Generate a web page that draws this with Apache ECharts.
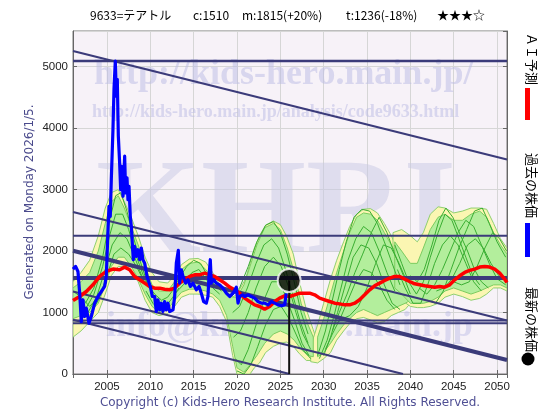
<!DOCTYPE html>
<html><head><meta charset="utf-8">
<script src="https://cdn.jsdelivr.net/npm/echarts@6/dist/echarts.min.js"></script>
<style>html,body{margin:0;padding:0;background:#fff}#c{width:560px;height:420px}</style>
</head><body><div id="c"></div>
<script>
// ---- axis settings ----
const xMin = 2001.08, xMax = 2051.15;
const yMin = 0, yMax = 5580;
const yTickLabels = ['0','1000','2000','3000','4000','5000'];
const xTickLabels = ['2005','2010','2015','2020','2025','2030','2035','2040','2045','2050'];

// ---- past price (blue) ----
const priceYears = [2001.08,2001.38,2001.65,2001.85,2002.04,2002.23,2002.42,2002.62,2002.92,2003.19,2003.58,2003.96,2004.35,2004.73,2004.92,2005.12,2005.23,2005.38,2005.50,2005.69,2005.81,2005.96,2006.08,2006.19,2006.31,2006.46,2006.58,2006.69,2006.85,2007.04,2007.15,2007.31,2007.42,2007.54,2007.69,2007.81,2007.92,2008.04,2008.19,2008.38,2008.58,2008.77,2008.96,2009.15,2009.35,2009.62,2009.85,2010.00,2010.23,2010.50,2010.69,2010.88,2011.08,2011.27,2011.46,2011.65,2011.85,2012.04,2012.23,2012.62,2012.81,2013.00,2013.23,2013.38,2013.58,2013.77,2014.08,2014.35,2014.62,2014.92,2015.31,2015.62,2015.88,2016.15,2016.46,2016.65,2016.77,2016.92,2017.04,2017.31,2017.62,2018.00,2018.38,2018.77,2019.15,2019.54,2019.92,2020.12,2020.31,2020.62,2020.88,2021.27,2021.65,2022.04,2022.42,2022.81,2023.19,2023.58,2023.96,2024.35,2024.73,2025.12,2025.50,2025.69];
const priceVals = [1707,1750,1668,1315,853,1207,935,1070,826,935,1152,1261,1342,1424,1587,2348,2728,2565,3163,3978,4630,5092,4522,4793,3870,3435,3000,3380,2891,3543,2946,3190,2837,3054,2565,2402,2130,1859,2076,1913,2022,1859,2049,1859,1804,1587,1587,1424,1261,1261,1016,1207,1043,1152,1016,1179,1043,1152,1016,1043,1261,1804,2011,1478,1696,1587,1478,1533,1424,1478,1370,1424,1315,1179,1152,1261,1587,1859,1478,1533,1478,1451,1397,1315,1261,1315,1413,1152,1261,1288,1261,1288,1261,1234,1179,1152,1152,1125,1179,1152,1125,1109,1125,1315];

// ---- AI forecast (red) ----
const aiYears = [2001.08,2001.85,2002.62,2003.38,2004.15,2004.92,2005.69,2006.46,2007.04,2007.62,2008.19,2008.77,2009.35,2009.92,2010.50,2011.08,2011.65,2012.23,2012.81,2013.38,2013.96,2014.54,2015.12,2015.69,2016.27,2016.85,2017.42,2018.00,2018.58,2019.15,2019.73,2020.31,2020.88,2021.46,2022.04,2022.62,2023.19,2023.77,2024.35,2024.92,2025.50,2026.08,2026.65,2027.23,2027.81,2028.38,2028.96,2029.54,2030.12,2030.69,2031.27,2031.85,2032.42,2033.00,2033.58,2034.15,2034.73,2035.31,2035.88,2036.46,2037.04,2037.62,2038.19,2038.77,2039.35,2039.92,2040.50,2041.08,2041.65,2042.23,2042.81,2043.38,2043.96,2044.54,2045.12,2045.69,2046.27,2046.85,2047.42,2048.00,2048.58,2049.15,2049.73,2050.31,2050.88,2051.15];
const aiVals = [1196,1261,1342,1451,1587,1668,1707,1696,1739,1696,1587,1533,1478,1424,1397,1397,1380,1370,1397,1478,1533,1587,1614,1614,1641,1614,1587,1533,1478,1413,1370,1315,1234,1179,1125,1098,1054,1098,1179,1234,1272,1261,1288,1315,1315,1315,1288,1234,1207,1179,1152,1141,1125,1125,1152,1207,1288,1370,1435,1478,1522,1560,1587,1587,1543,1505,1467,1451,1435,1424,1413,1424,1413,1451,1533,1598,1652,1685,1707,1739,1750,1739,1707,1641,1543,1489];

// ---- latest price ----
const latestYear = 2026.02, latestPrice = 1521;

// ---- outer (yellow) envelopes ----
const yelA_years = [2001.08,2002.0,2003.0,2004.0,2004.8,2005.5,2006.3,2007.0,2007.8,2008.6,2009.4,2010.2,2011.0,2012.0,2012.8,2013.6,2014.5,2015.5,2016.4,2017.2,2018.0,2018.8,2019.5,2020.0,2021.0,2021.5,2022.0,2022.6,2023.3,2024.2,2025.0,2025.7,2026.5,2027.2,2028.0,2028.8,2029.3];
const yelA_lo = [600,700,850,1000,1300,1600,1750,1750,1650,1500,1200,1000,950,980,1100,1250,1300,1300,1280,1250,1100,850,300,0,0,0,100,180,350,450,500,520,450,330,220,220,280];
const yelA_hi = [1500,1650,1850,2250,2700,2950,3000,2800,2550,2250,1900,1650,1500,1480,1600,1780,1870,1880,1820,1650,1450,1350,1250,1300,1550,1800,2050,2250,2420,2490,2430,2250,1950,1500,1050,720,500];
const yelB_years = [2028.5,2029.3,2030.0,2030.8,2031.5,2032.3,2033.0,2033.8,2034.6,2035.4,2036.2,2037.0,2037.8,2038.6,2039.4,2040.0];
const yelB_lo = [200,180,250,350,550,700,820,900,920,880,830,850,950,1000,1050,1150];
const yelB_hi = [450,800,1150,1550,1850,2150,2400,2600,2680,2690,2620,2450,2250,2000,1800,1650];
const yelC_years = [2038.0,2039.0,2040.0,2040.8,2041.5,2042.3,2043.2,2044.0,2045.0,2046.0,2047.0,2048.0,2048.8,2049.6,2050.4,2051.15];
const yelC_lo = [1350,1200,1100,1080,1080,1100,1150,1250,1300,1260,1200,1230,1300,1400,1400,1350];
const yelC_hi = [2300,2350,2250,2150,2300,2600,2720,2700,2620,2650,2700,2700,2680,2450,2200,2050];

// ---- inner (green) envelopes ----
const grnA_years = [2001.08,2002.0,2003.0,2004.0,2004.8,2005.5,2006.3,2007.0,2007.8,2008.6,2009.4,2010.2,2011.0,2012.0,2012.8,2013.6,2014.5,2015.5,2016.4,2017.2,2018.0,2018.8,2019.5,2020.0,2020.8,2021.5,2022.3,2023.2,2024.2,2025.0,2025.8,2026.6,2027.4,2028.2,2028.8];
const grnA_lo = [900,950,1000,1150,1450,1750,1900,1900,1750,1550,1300,1100,1000,1050,1200,1330,1380,1380,1350,1300,1200,950,450,100,30,150,300,500,650,700,650,550,400,300,280];
const grnA_hi = [1400,1500,1650,2000,2450,2800,2900,2700,2400,2100,1750,1450,1350,1350,1500,1700,1800,1820,1700,1550,1400,1300,1250,1250,1450,1750,2100,2380,2450,2350,2050,1650,1150,800,600];
const grnB_years = [2029.3,2030.0,2030.8,2031.5,2032.3,2033.0,2033.8,2034.6,2035.4,2036.2,2037.0,2037.8,2038.6,2039.4,2040.0];
const grnB_lo = [280,350,500,650,800,900,1000,1050,1000,950,1000,1050,1100,1150,1200];
const grnB_hi = [600,900,1300,1650,2000,2300,2550,2620,2600,2500,2300,2100,1900,1700,1600];
const grnC_years = [2038.2,2039.0,2040.0,2040.8,2041.5,2042.3,2043.2,2044.0,2045.0,2046.0,2047.0,2048.0,2048.8,2049.6,2050.4,2051.15];
const grnC_lo = [1400,1300,1150,1150,1150,1180,1250,1350,1400,1350,1300,1350,1400,1450,1450,1400];
const grnC_hi = [2150,2000,1800,1800,2050,2350,2550,2600,2500,2500,2600,2650,2550,2300,2100,1950];

// ---- simulated paths (green lines) ----
const simPaths = [
  [[2002.5,1150],[2003.5,1400],[2004.5,1900],[2005.3,2500],[2006.0,2900],[2006.6,2950],[2007.3,2650],[2008.0,2250],[2008.8,1850],[2009.6,1500],[2010.5,1250]],
  [[2002.5,1050],[2003.5,1300],[2004.5,1750],[2005.3,2250],[2006.0,2600],[2006.8,2600],[2007.5,2350],[2008.3,1950],[2009.2,1600],[2010.2,1350]],
  [[2002.8,1000],[2003.8,1250],[2004.8,1700],[2005.6,2100],[2006.5,2300],[2007.3,2200],[2008.2,1900],[2009.0,1600],[2010.0,1400]],
  [[2003.0,950],[2004.0,1200],[2005.0,1600],[2005.8,1950],[2006.6,2050],[2007.5,1950],[2008.4,1750],[2009.3,1500]],
  [[2001.08,1350],[2002.0,1250],[2003.0,1100],[2004.0,1250],[2005.0,1500]],
  [[2009.5,1350],[2010.3,1150],[2011.0,1050],[2011.8,1100],[2012.6,1250],[2013.3,1400]],
  [[2009.5,1500],[2010.5,1300],[2011.3,1200],[2012.0,1250],[2012.8,1400]],
  [[2012.5,1350],[2013.3,1550],[2014.2,1750],[2015.0,1850],[2015.8,1800],[2016.6,1600],[2017.4,1450],[2018.2,1350]],
  [[2012.8,1300],[2013.8,1450],[2014.8,1650],[2015.6,1700],[2016.4,1550],[2017.2,1400],[2018.0,1300]],
  [[2019.3,1250],[2020.3,1400],[2021.3,1750],[2022.3,2150],[2023.3,2420],[2024.2,2480],[2025.0,2300],[2025.8,1950],[2026.6,1500],[2027.4,1000],[2028.2,650]],
  [[2019.5,1000],[2020.3,1100],[2021.2,1400],[2022.2,1800],[2023.1,2100],[2024.0,2200],[2024.8,2050],[2025.6,1700],[2026.5,1250],[2027.3,850],[2028.2,500]],
  [[2019.6,600],[2020.4,700],[2021.3,1000],[2022.2,1400],[2023.2,1750],[2024.2,1900],[2025.1,1750],[2026.0,1400],[2026.8,1000],[2027.6,650],[2028.5,400]],
  [[2019.8,250],[2020.5,150],[2021.3,400],[2022.2,800],[2023.1,1200],[2024.0,1500],[2024.9,1500],[2025.8,1200],[2026.7,850],[2027.5,500],[2028.3,300]],
  [[2020.0,50],[2020.8,0],[2021.6,150],[2022.4,450],[2023.3,800],[2024.2,1050],[2025.1,1100],[2026.0,900],[2026.8,650],[2027.6,400],[2028.5,250]],
  [[2029.3,300],[2030.2,700],[2031.0,1200],[2031.8,1700],[2032.6,2150],[2033.5,2550],[2034.4,2680],[2035.3,2650],[2036.2,2450],[2037.0,2150],[2037.9,1800],[2038.8,1450]],
  [[2029.5,250],[2030.4,550],[2031.2,950],[2032.0,1400],[2032.8,1850],[2033.7,2200],[2034.6,2400],[2035.5,2300],[2036.4,2000],[2037.3,1650],[2038.2,1350]],
  [[2030.0,300],[2030.8,600],[2031.6,1000],[2032.5,1450],[2033.4,1900],[2034.3,2100],[2035.2,2050],[2036.1,1800],[2037.0,1450],[2037.9,1150],[2038.8,1050]],
  [[2030.2,400],[2031.0,650],[2031.9,900],[2032.8,1200],[2033.7,1500],[2034.6,1700],[2035.5,1650],[2036.4,1450],[2037.3,1200],[2038.2,1050]],
  [[2031.0,700],[2031.8,1000],[2032.7,1300],[2033.6,1650],[2034.5,1950],[2035.5,2300],[2036.4,2550],[2037.3,2300],[2038.2,1950],[2039.2,1600],[2040.0,1300]],
  [[2031.2,800],[2032.2,900],[2033.0,950],[2034.0,1100],[2035.0,1400],[2036.0,1800],[2036.9,2100],[2037.8,2050],[2038.7,1800],[2039.6,1500]],
  [[2038.2,2100],[2039.0,1800],[2039.8,1500],[2040.7,1300],[2041.5,1500],[2042.3,1900],[2043.2,2300],[2044.0,2600],[2044.8,2500],[2045.6,2200],[2046.4,1900],[2047.2,1600],[2048.0,1450]],
  [[2038.5,1700],[2039.4,1400],[2040.3,1150],[2041.2,1150],[2042.0,1450],[2042.8,1800],[2043.7,2100],[2044.6,2250],[2045.5,2100],[2046.4,1800],[2047.3,1500],[2048.2,1350]],
  [[2040.0,1600],[2040.8,1500],[2041.6,1700],[2042.5,2100],[2043.3,2500],[2044.1,2700],[2044.9,2550],[2045.8,2250],[2046.6,2000],[2047.4,1700],[2048.2,1500],[2049.0,1400]],
  [[2041.0,1400],[2041.9,1300],[2042.8,1450],[2043.7,1700],[2044.6,2000],[2045.5,2300],[2046.4,2500],[2047.3,2400],[2048.2,2100],[2049.1,1800],[2050.0,1550],[2051.0,1450]],
  [[2042.0,1200],[2042.9,1150],[2043.8,1350],[2044.7,1700],[2045.6,2050],[2046.5,2350],[2047.4,2650],[2048.3,2700],[2049.1,2450],[2050.0,2150],[2051.0,1900]],
  [[2043.0,1350],[2043.9,1400],[2044.8,1550],[2045.7,1800],[2046.6,2100],[2047.5,2200],[2048.4,2050],[2049.3,1800],[2050.2,1600],[2051.1,1500]],
  [[2045.0,1500],[2045.9,1450],[2046.8,1500],[2047.7,1750],[2048.6,2050],[2049.5,2300],[2050.3,2200],[2051.1,2000]]
];

// ---- channel lines (navy) ----
const levelVals = [5090, 2250, 1560, 870, 825];
const levelWidths = [2.5, 2, 4, 2, 2];
const trendLines = [
  [[2001.08,5255],[2051.15,3489]],
  [[2001.08,2636],[2051.15,870]],
  [[2001.08,2005],[2051.15,228]],
  [[2001.08,1342],[2039.15,0]],
  [[2001.08,883],[2026.08,0]]
];
const trendWidths = [2, 2, 4, 2, 2];

// ---- texts ----
const titleParts = [['9633=テアトル',90],['c:1510',193],['m:1815(+20%)',242],['t:1236(-18%)',346],['★★★☆',437]];
const legendTexts = ['ＡＩ予測','過去の株価','最新の株価'];

const NAVY = '#3b3b7a';
const series = [];

function band(years, lo, hi, fill, stroke, z) {
  const data = years.map((y, i) => [y, lo[i], hi[i]]);
  return {
    type: 'custom', data, z, silent: true, clip: true,
    encode: { x: 0, y: [1, 2] },
    renderItem(params, api) {
      if (params.dataIndex !== 0) return null;
      const top = data.map(d => api.coord([d[0], d[2]]));
      const bot = data.map(d => api.coord([d[0], d[1]])).reverse();
      return { type: 'polygon', shape: { points: top.concat(bot) },
        style: { fill, stroke, lineWidth: 1 } };
    }
  };
}
const YEL = '#fbf6b2', YEL_S = '#8fd070', GRN = '#b3ee9c', GRN_S = '#7ccc60';
series.push(band(yelA_years, yelA_lo, yelA_hi, YEL, YEL_S, 2));
series.push(band(yelB_years, yelB_lo, yelB_hi, YEL, YEL_S, 2));
series.push(band(yelC_years, yelC_lo, yelC_hi, YEL, YEL_S, 2));
series.push(band(grnA_years, grnA_lo, grnA_hi, GRN, GRN_S, 3));
series.push(band(grnB_years, grnB_lo, grnB_hi, GRN, GRN_S, 3));
series.push(band(grnC_years, grnC_lo, grnC_hi, GRN, GRN_S, 3));

simPaths.forEach(p => series.push({
  type: 'line', data: p, symbol: 'none', z: 4, silent: true,
  lineStyle: { color: '#3aae32', width: 1 }
}));

levelVals.forEach((v, i) => series.push({
  type: 'line', data: [[xMin, v], [xMax, v]], symbol: 'none', z: 5, silent: true,
  lineStyle: { color: NAVY, width: levelWidths[i] }
}));
trendLines.forEach((t, i) => series.push({
  type: 'line', data: t, symbol: 'none', z: 5, silent: true,
  lineStyle: { color: NAVY, width: trendWidths[i] }
}));

series.push({
  type: 'line', data: aiYears.map((y, i) => [y, aiVals[i]]), symbol: 'none', z: 7,
  lineStyle: { color: '#ff0000', width: 3.5 }
});
series.push({
  type: 'line', data: priceYears.map((y, i) => [y, priceVals[i]]), symbol: 'none', z: 8,
  lineStyle: { color: '#0000ff', width: 3.2, join: 'round' }
});
series.push({
  type: 'line', data: [[latestYear, latestPrice], [latestYear, 0]], symbol: 'none', z: 9,
  lineStyle: { color: '#111', width: 2 }
});
series.push({
  type: 'scatter', data: [[latestYear, latestPrice]], symbolSize: 23, z: 10,
  itemStyle: { color: '#000', borderColor: '#fff', borderWidth: 2 }
});

const graphics = [];
// watermark
const WM = 'rgba(185,185,228,0.5)';
graphics.push({ type: 'text', z: 1, left: 94, top: 57, silent: true,
  style: { text: 'http://kids-hero.main.jp/', font: 'bold 36px "Liberation Serif", serif', fill: WM } });
graphics.push({ type: 'text', z: 1, left: 92, top: 103, silent: true,
  style: { text: 'http://kids-hero.main.jp/analysis/code9633.html', font: 'bold 18px "Liberation Serif", serif', fill: WM } });
graphics.push({ type: 'text', z: 1, left: 96, top: 150, silent: true,
  style: { text: 'KHRI', font: 'bold 135px "Liberation Serif", serif', fill: 'rgba(200,200,228,0.5)' } });
graphics.push({ type: 'text', z: 1, left: 106, top: 309, silent: true,
  style: { text: 'info@kids-hero.main.jp', font: 'bold 36px "Liberation Serif", serif', fill: 'rgba(185,185,228,0.45)' } });
// title
titleParts.forEach(([t, x]) => graphics.push({ type: 'text', left: x, top: 9,
  style: { text: t, font: '12px "Noto Sans CJK JP", sans-serif', fill: '#000' } }));
// generated text (rotated)
graphics.push({ type: 'text', x: 30, y: 202, rotation: Math.PI / 2,
  style: { text: 'Generated on Monday 2026/1/5.', font: '12px "DejaVu Sans", sans-serif', fill: '#4a4a8c', align: 'center', verticalAlign: 'middle' } });
// copyright
graphics.push({ type: 'text', x: 290, y: 403,
  style: { text: 'Copyright (c) Kids-Hero Research Institute. All Rights Reserved.', font: '12px "DejaVu Sans", sans-serif', fill: '#4f4f94', align: 'center', verticalAlign: 'middle' } });
// right legend
const legY = [33, 153, 287];
legendTexts.forEach((t, i) => graphics.push({ type: 'text', x: 532, y: legY[i], rotation: -Math.PI / 2,
  style: { text: t, font: '13px "Noto Sans CJK JP", sans-serif', fill: '#000', align: 'left', verticalAlign: 'middle' } }));
graphics.push({ type: 'rect', shape: { x: 525, y: 88, width: 5, height: 32 }, style: { fill: '#ff0000' } });
graphics.push({ type: 'rect', shape: { x: 525, y: 223, width: 5, height: 34 }, style: { fill: '#0000ff' } });
graphics.push({ type: 'circle', shape: { cx: 528, cy: 359, r: 6.5 }, style: { fill: '#000' } });

const chart = echarts.init(document.getElementById('c'), null, { renderer: 'canvas' });
chart.setOption({
  animation: false,
  backgroundColor: '#ffffff',
  grid: { left: 73, right: 53, top: 31, bottom: 46, show: true, backgroundColor: '#f7f2f8', borderColor: '#7a7a7a', borderWidth: 1 },
  xAxis: [{
    type: 'value', min: xMin, max: xMax, splitNumber: 10,
    axisLine: { show: true, lineStyle: { color: '#666' } },
    axisTick: { show: true, inside: true, length: 4, lineStyle: { color: '#666' } },
    splitLine: { show: true, lineStyle: { color: '#d6d6d6', width: 1 } },
    axisLabel: { margin: 7, color: '#222', fontSize: 11.5, fontFamily: '"Liberation Sans", Arial, sans-serif',
      formatter: v => { const s = String(Math.round(v)); return (Math.abs(v - Math.round(v)) < 1e-6 && xTickLabels.includes(s)) ? s : ''; } }
  }, {
    type: 'value', min: xMin, max: xMax, splitNumber: 10, position: 'top',
    axisLine: { show: true, lineStyle: { color: '#666' } },
    axisTick: { show: true, inside: true, length: 4, lineStyle: { color: '#666' } },
    splitLine: { show: false }, axisLabel: { show: false }
  }],
  yAxis: [{
    type: 'value', min: yMin, max: yMax, interval: 1000,
    axisLine: { show: true, lineStyle: { color: '#666' } },
    axisTick: { show: true, inside: true, length: 4, lineStyle: { color: '#666' } },
    splitLine: { show: true, lineStyle: { color: '#d6d6d6', width: 1 } },
    axisLabel: { margin: 5, color: '#222', fontSize: 11.5, fontFamily: '"Liberation Sans", Arial, sans-serif', showMaxLabel: false,
      formatter: v => { const s = String(Math.round(v)); return yTickLabels.includes(s) && Math.abs(v - Math.round(v)) < 1e-6 ? s : ''; } }
  }, {
    type: 'value', min: yMin, max: yMax, interval: 1000, position: 'right',
    axisLine: { show: true, lineStyle: { color: '#666' } },
    axisTick: { show: true, inside: true, length: 4, lineStyle: { color: '#666' } },
    splitLine: { show: false }, axisLabel: { show: false }
  }],
  graphic: graphics,
  series
});
</script></body></html>
